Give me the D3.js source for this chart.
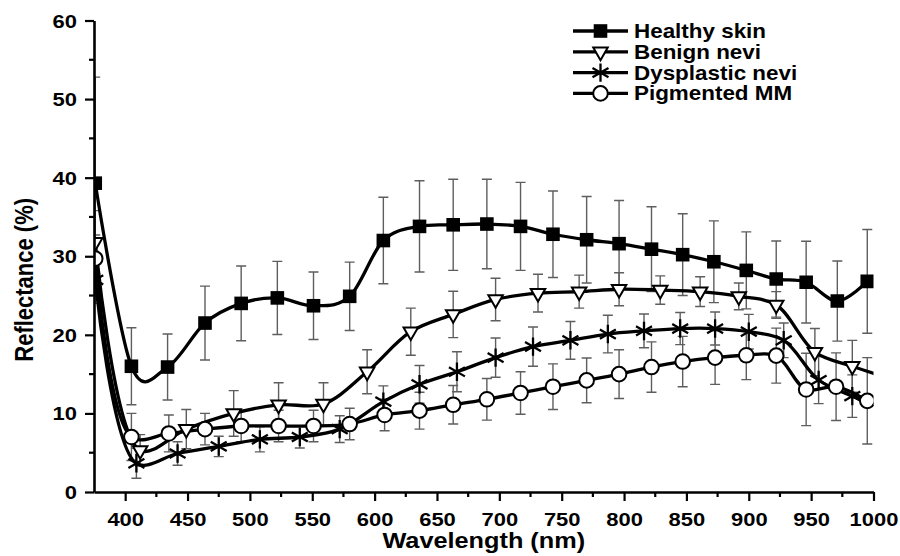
<!DOCTYPE html>
<html>
<head>
<meta charset="utf-8">
<script src="https://cdn.jsdelivr.net/npm/d3@7"></script>
<style>
body { margin: 0; background: #fff; }
svg text { font-family: "Liberation Sans", Arial, sans-serif; font-weight: bold; fill: #000; }
</style>
</head>
<body>
<svg id="chart" width="900" height="556"></svg>
<script>
// values (wavelength in nm, reflectance in %)
var healthyWl  = [376, 405, 434, 464, 493, 522, 551, 580, 607, 636, 663, 690, 717, 743, 770, 796, 822, 847, 872, 898, 922, 946, 971, 995];
var healthyVal = [39.3, 16.0, 15.9, 21.5, 24.0, 24.7, 23.7, 24.9, 32.0, 33.8, 34.0, 34.1, 33.8, 32.8, 32.1, 31.6, 30.9, 30.2, 29.3, 28.2, 27.1, 26.7, 24.3, 26.8];
var healthyErr = [13.5, 4.9, 4.2, 4.7, 4.75, 4.65, 4.3, 4.35, 5.5, 5.8, 5.8, 5.7, 5.6, 5.5, 5.5, 5.5, 5.4, 5.2, 5.2, 4.9, 4.85, 5.2, 5.1, 6.6];

var benignWl  = [376, 412, 449, 487, 523, 559, 594, 629, 663, 697, 731, 764, 796, 829, 861, 892, 922, 953, 983, 1012];
var benignVal = [31.8, 5.3, 8.0, 10.0, 11.1, 11.2, 15.3, 20.4, 22.6, 24.5, 25.3, 25.5, 25.8, 25.7, 25.5, 24.9, 23.8, 17.8, 16.0, 14.5];
var benignErr = [4, 2.0, 2.5, 2.9, 2.8, 2.7, 2.8, 3.0, 2.95, 2.7, 2.4, 2.1, 2.1, 1.8, 1.9, 1.7, 1.7, 3.0, 3.3, 3.3];

var dyspWl  = [376, 409, 442, 475, 508, 540, 572, 607, 636, 666, 697, 727, 757, 787, 816, 845, 873, 900, 928, 956, 983, 1012];
var dyspVal = [27.0, 3.65, 4.9, 5.8, 6.7, 7.0, 8.0, 11.5, 13.7, 15.3, 17.1, 18.5, 19.3, 20.1, 20.5, 20.8, 20.8, 20.4, 19.3, 14.25, 12.2, 10.5];
var dyspErr = [3, 1.9, 1.5, 1.3, 1.6, 1.4, 1.7, 2.0, 2.4, 2.55, 2.5, 2.5, 2.4, 2.4, 2.15, 2.05, 2.1, 2.2, 2.2, 3.0, 2.7, 2.7];

var mmWl  = [376, 405, 435, 464, 493, 523, 551, 580, 608, 636, 663, 690, 717, 743, 770, 796, 822, 847, 873, 898, 922, 946, 970, 995];
var mmVal = [29.7, 7.0, 7.45, 8.0, 8.4, 8.4, 8.4, 8.65, 9.8, 10.35, 11.1, 11.8, 12.6, 13.4, 14.2, 15.0, 15.9, 16.6, 17.1, 17.4, 17.35, 13.05, 13.4, 11.6];
var mmErr = [3, 3.0, 2.35, 2.0, 2.0, 2.0, 2.0, 2.0, 2.0, 2.35, 2.45, 2.65, 2.7, 2.9, 2.85, 3.1, 3.2, 3.2, 3.4, 3.1, 3.5, 4.6, 4.3, 5.5];

var seriesNames = ['Healthy skin', 'Benign nevi', 'Dysplastic nevi', 'Pigmented MM'];
var xTicks = [400, 450, 500, 550, 600, 650, 700, 750, 800, 850, 900, 950, 1000];
var yTicks = [0, 10, 20, 30, 40, 50, 60];

function zip(wl, val, err) {
    return wl.map(function(w, i) { return {x: w, y: val[i], e: err[i]}; });
}

// alpha: spline parametrisation, the healthy curve sags more below its points
var series = [
    {name: seriesNames[0], sym: 'square',   alpha: 0,   pts: zip(healthyWl, healthyVal, healthyErr)},
    {name: seriesNames[1], sym: 'triangle', alpha: 0.5, pts: zip(benignWl, benignVal, benignErr)},
    {name: seriesNames[2], sym: 'asterisk', alpha: 0.5, pts: zip(dyspWl, dyspVal, dyspErr)},
    {name: seriesNames[3], sym: 'circle',   alpha: 0.5, pts: zip(mmWl, mmVal, mmErr)}
];

var svg = d3.select('#chart');
var plotLeft = 94, plotRight = 873.5, plotTop = 20.5, plotBottom = 492;

var x = d3.scaleLinear().domain([375, 1000]).range([plotLeft, plotRight]);
var y = d3.scaleLinear().domain([0, 60]).range([plotBottom, plotTop]);

svg.append('defs').append('clipPath').attr('id', 'plotclip')
    .append('rect').attr('x', plotLeft).attr('y', 0)
    .attr('width', plotRight - plotLeft).attr('height', plotBottom);

var plot = svg.append('g').attr('clip-path', 'url(#plotclip)');

// error bars first, grey
var capW = 5;
series.forEach(function(s) {
    var eb = plot.append('g').attr('stroke', '#5e5e5e').attr('stroke-width', 1.4).attr('fill', 'none');
    eb.selectAll('path').data(s.pts).enter().append('path')
        .attr('d', function(d) {
            var cx = x(d.x), y0 = y(d.y - d.e), y1 = y(d.y + d.e);
            return 'M' + cx + ',' + y0 + 'V' + y1 +
                'M' + (cx - capW) + ',' + y1 + 'H' + (cx + capW) +
                'M' + (cx - capW) + ',' + y0 + 'H' + (cx + capW);
        });
});

series.forEach(function(s) {
    var line = d3.line()
        .x(function(d) { return x(d.x); })
        .y(function(d) { return y(d.y); })
        .curve(d3.curveCatmullRom.alpha(s.alpha));
    plot.append('path').datum(s.pts)
        .attr('fill', 'none').attr('stroke', '#000').attr('stroke-width', 3.3)
        .attr('d', line);
});

function drawMarker(g, sym) {
    if (sym === 'square') {
        g.append('path').attr('d', d3.symbol(d3.symbolSquare, 185)()).attr('fill', '#000');
    } else if (sym === 'triangle') {
        g.append('path').attr('d', d3.symbol(d3.symbolTriangle2, 150)())
            .attr('transform', 'rotate(180)')
            .attr('fill', '#fff').attr('stroke', '#000').attr('stroke-width', 2);
    } else if (sym === 'circle') {
        g.append('circle').attr('r', 7.3)
            .attr('fill', '#fff').attr('stroke', '#000').attr('stroke-width', 2);
    } else {
        g.append('path').attr('d', d3.symbol(d3.symbolAsterisk, 240)())
            .attr('fill', 'none').attr('stroke', '#000').attr('stroke-width', 2.3);
    }
}

series.forEach(function(s) {
    plot.append('g').selectAll('g').data(s.pts).enter().append('g')
        .attr('transform', function(d) { return 'translate(' + x(d.x) + ',' + y(d.y) + ')'; })
        .each(function() { drawMarker(d3.select(this), s.sym); });
});

// axes
var xMinor = d3.range(425, 1000, 50);
var yMinor = d3.range(5, 60, 10);

var xAxis = svg.append('g').attr('transform', 'translate(0,' + plotBottom + ')');
xAxis.call(d3.axisBottom(x).tickValues(xTicks).tickFormat(d3.format('d')).tickSize(9).tickSizeOuter(0));
xAxis.append('g').selectAll('line').data(xMinor).enter().append('line')
    .attr('x1', x).attr('x2', x).attr('y1', 0).attr('y2', 5);

var yAxis = svg.append('g').attr('transform', 'translate(' + plotLeft + ',0)');
yAxis.call(d3.axisLeft(y).tickValues(yTicks).tickFormat(d3.format('d')).tickSize(9).tickSizeOuter(0));
yAxis.append('g').selectAll('line').data(yMinor).enter().append('line')
    .attr('y1', y).attr('y2', y).attr('x1', 0).attr('x2', -5);

[xAxis, yAxis].forEach(function(a) {
    a.attr('font-family', null).attr('font-size', null);
    a.select('.domain').attr('stroke', '#000').attr('stroke-width', 2.6);
    a.selectAll('line').attr('stroke', '#000').attr('stroke-width', 2.2);
    a.selectAll('text').attr('font-size', 18);
});
xAxis.selectAll('.tick text')
    .attr('y', 0).attr('dy', 0)
    .attr('transform', 'translate(0,33.5) scale(1.22,1)');
yAxis.selectAll('.tick text')
    .attr('x', 0).attr('dy', 0)
    .attr('transform', 'translate(-17,6.5) scale(1.22,1)');

svg.append('text')
    .attr('text-anchor', 'middle').attr('font-size', 22)
    .attr('transform', 'translate(' + (plotLeft + plotRight) / 2 + ',548) scale(1.15,1)')
    .text('Wavelength (nm)');

svg.append('text')
    .attr('text-anchor', 'middle').attr('font-size', 22)
    .attr('transform', 'translate(33,' + y(27) + ') rotate(-90) scale(1,1.15)')
    .text('Reflectance (%)');

// legend
var legend = svg.append('g');
var rowY = d3.scaleLinear().domain([0, 1]).range([31, 51.8]);
series.forEach(function(s, i) {
    var g = legend.append('g').attr('transform', 'translate(0,' + rowY(i) + ')');
    g.append('line').attr('x1', 573).attr('x2', 628).attr('y1', 0).attr('y2', 0)
        .attr('stroke', '#000').attr('stroke-width', 3.3);
    drawMarker(g.append('g').attr('transform', 'translate(600.5,0)'), s.sym);
    g.append('text').attr('font-size', 19.5)
        .attr('transform', 'translate(634,7) scale(1.15,1)')
        .text(s.name);
});
</script>
</body>
</html>
